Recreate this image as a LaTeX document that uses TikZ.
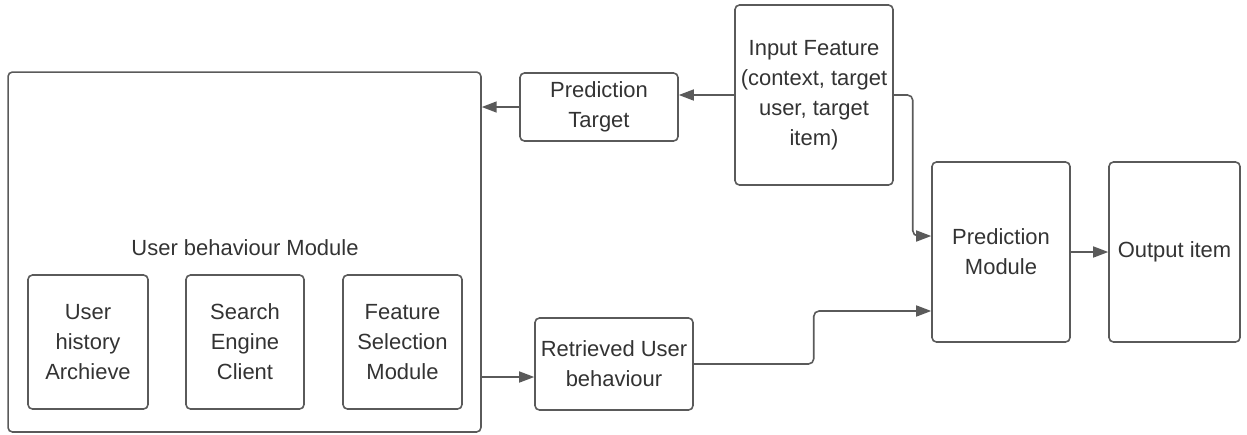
\documentclass[tikz,border=0pt]{standalone}
\usepackage{fontspec}
\setmainfont{Liberation Sans}
\usetikzlibrary{arrows.meta}
\usetikzlibrary{positioning}

\definecolor{linegray}{HTML}{5A5A5A}
\definecolor{textgray}{HTML}{333333}

\begin{document}
\begin{tikzpicture}
    [x=0.02cm,y=-0.02cm,
    block/.style={rectangle,draw=linegray,line width=0.9pt,rounded corners=2.5pt,
      align=center,inner sep=0pt,text=textgray,
      font=\fontsize{12.5}{17}\selectfont},
    link/.style={draw=linegray,line width=0.9pt,rounded corners=3pt,
      -{Triangle[length=0.3cm,width=0.22cm]}}]

    \useasboundingbox (0,0) rectangle (1247,434);

    % user behaviour side
    \node[block,minimum width=9.46cm,minimum height=7.2cm] (behaviour) at (244.5,252) {};
    \node[text=textgray,font=\fontsize{12.5}{17}\selectfont] (behaviour label) at (245,248) {User behaviour Module};

    \node[block,minimum width=2.4cm,minimum height=2.68cm]  (history)   at (88,342)    {User\\history\\Archieve};
    \node[block,minimum width=2.36cm,minimum height=2.68cm] (search)    at (245,342)   {Search\\Engine\\Client};
    \node[block,minimum width=2.38cm,minimum height=2.68cm] (selection) at (402.5,342) {Feature\\Selection\\Module};

    % middle
    \node[block,minimum width=3.16cm,minimum height=1.36cm] (target)    at (599,107)   {Prediction\\Target};
    \node[block,minimum width=3.16cm,minimum height=3.6cm]  (input)     at (814,95)    {Input Feature\\(context, target\\user, target\\item)};
    \node[block,minimum width=3.16cm,minimum height=1.84cm] (retrieved) at (614,364)   {Retrieved User\\behaviour};

    % right side
    \node[block,minimum width=2.76cm,minimum height=3.6cm]  (prediction) at (1001,252)  {Prediction\\Module};
    \node[block,minimum width=2.62cm,minimum height=3.6cm]  (output)     at (1174.5,252) {Output item};

    \draw[link] (input.west) -- (input.west -| target.east);
    \draw[link] (target.west) -- (target.west -| behaviour.east);
    \draw[link] (input.east) -- ++(19,0) |- ([yshift=0.32cm]prediction.west);
    \draw[link] ([yshift=-0.26cm]retrieved.west -| behaviour.east) -- ([yshift=-0.26cm]retrieved.west);
    \draw[link] (retrieved.east) -- ++(120,0) |- ([yshift=-1.18cm]prediction.west);
    \draw[link] (prediction.east) -- (output.west);

  \end{tikzpicture}
\end{document}
